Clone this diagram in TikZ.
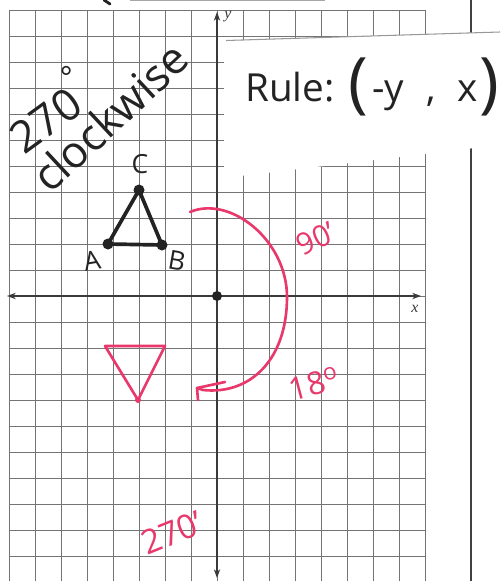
\documentclass[tikz,border=0pt]{standalone}
\usepackage{fontspec}
\setmainfont{Open Sans}
\newfontfamily\axisfont{Liberation Serif}
\usetikzlibrary{arrows.meta}
\definecolor{pen}{HTML}{232323}
\definecolor{marker}{HTML}{E8386C}
\definecolor{gridc}{HTML}{747474}
\definecolor{axisc}{HTML}{3A3A3A}
\newcommand{\bigpar}[1]{{\fontsize{38}{38}\selectfont\raisebox{-0.06em}{#1}}}
\begin{document}
\begin{tikzpicture}[x=0.02cm,y=-0.02cm,
  gridline/.style={draw=gridc,line width=0.45pt},
  axisline/.style={draw=axisc,line width=0.75pt,{Stealth[length=5pt,width=3.6pt]}-{Stealth[length=5pt,width=3.6pt]}},
  axislabel/.style={font=\axisfont\itshape\fontsize{9}{10}\selectfont,text=axisc,inner sep=0pt},
  hand/.style={font=\fontsize{#1}{#1}\selectfont,text=pen,inner sep=0pt},
  redhand/.style={font=\fontsize{#1}{#1}\selectfont,text=marker,inner sep=0pt},
  blackstroke/.style={draw=pen,line width=2.1pt,line join=round},
  redstroke/.style={draw=marker,line width=1.5pt,line cap=round,line join=round},
  pointdot/.style={fill=pen}
]
\useasboundingbox[fill=white] (0,0) rectangle (500,581);
\begin{scope}
\clip (0,0) rectangle (500,581);
% grid
\foreach \k in {-8,...,8} {
  \draw[gridline] (217+26*\k,10) -- (217+26*\k,581);
}
\foreach \k in {-11,...,11} {
  \draw[gridline] (9,296+26*\k) -- (425,296+26*\k);
}
% page line on the right and at the top
\draw[draw=black!75,line width=0.8pt] (471,0) -- (471,581);
\draw[draw=black!35,line width=0.6pt] (130,0.5) -- (325,0.5);
\draw[draw=pen,line width=1.6pt,line cap=round] (104,0) -- (110,4);
% axes
\coordinate (xl) at (7,296);
\coordinate (xr) at (421,296);
\coordinate (yt) at (217,12);
\coordinate (yb) at (217,578);
\draw[axisline] (xl) -- (xr);
\draw[axisline] (yb) -- (yt);
\node[axislabel] (ylab) at (228,17) {y};
\node[axislabel] (xlab) at (415,309) {x};
% sticky note
\fill[white] (224,41) -- (500,32) -- (500,145) -- (224,178) -- cycle;
\draw[draw=black!40,line width=0.6pt] (226,40.5) -- (500,32);
\end{scope}

% rule text
\node[hand=22,anchor=base west] (rule) at (245,101)
  {Rule:\hspace{8pt}\bigpar{(}\hspace{2pt}-y\hspace{13pt},\hspace{12pt}x\hspace{1pt}\bigpar{)}};

% 270 clockwise
\node[hand=25,rotate=36] (deg) at (41,114) {270\rlap{\hspace{1pt}\raisebox{0.6em}{\fontsize{17}{17}\selectfont°}}};
\node[hand=25,rotate=43] (cw) at (110,117) {clockwise};

% original triangle
\coordinate (A) at (108,244);
\coordinate (B) at (162,245);
\coordinate (C) at (139,190);
\draw[blackstroke] (A) -- (B) -- (C) -- cycle;
\foreach \p in {A,B,C} { \fill[pointdot] (\p) circle (5.5); }
\node[hand=15,rotate=10] (lA) at (92,261) {A};
\node[hand=15,rotate=-10] (lB) at (177,261) {B};
\node[hand=15] (lC) at (140,164) {C};

% origin
\coordinate (O) at (217,296);
\fill[pointdot] (O) circle (5);

% rotated triangle (red)
\coordinate (P) at (105,346);
\coordinate (Q) at (165,346);
\coordinate (R) at (138,400);
\draw[redstroke] (P) -- (Q) -- (R) -- cycle;
\fill[marker] (R) circle (3);

% red arc with arrow
\coordinate (arcS) at (190,212);
\coordinate (arcM) at (287,297);
\coordinate (arcE) at (203,390);
\coordinate (tip) at (197,388);
\coordinate (barb1) at (225,382);
\coordinate (barb2) at (198,400);
\draw[redstroke] (arcS) .. controls (230,195) and (287,240) .. (arcM)
  .. controls (287,360) and (250,395) .. (arcE) -- (tip);
\draw[redstroke] (barb1) -- (tip) -- (barb2);

% red labels
\node[redhand=17,rotate=25] (l90) at (316,239) {90’};
\node[redhand=18,rotate=15] (l180) at (314,384) {18\raisebox{0.35em}{\fontsize{13}{13}\selectfont o}};
\node[redhand=19,rotate=22] (l270) at (172,533) {270’};
\end{tikzpicture}
\end{document}
